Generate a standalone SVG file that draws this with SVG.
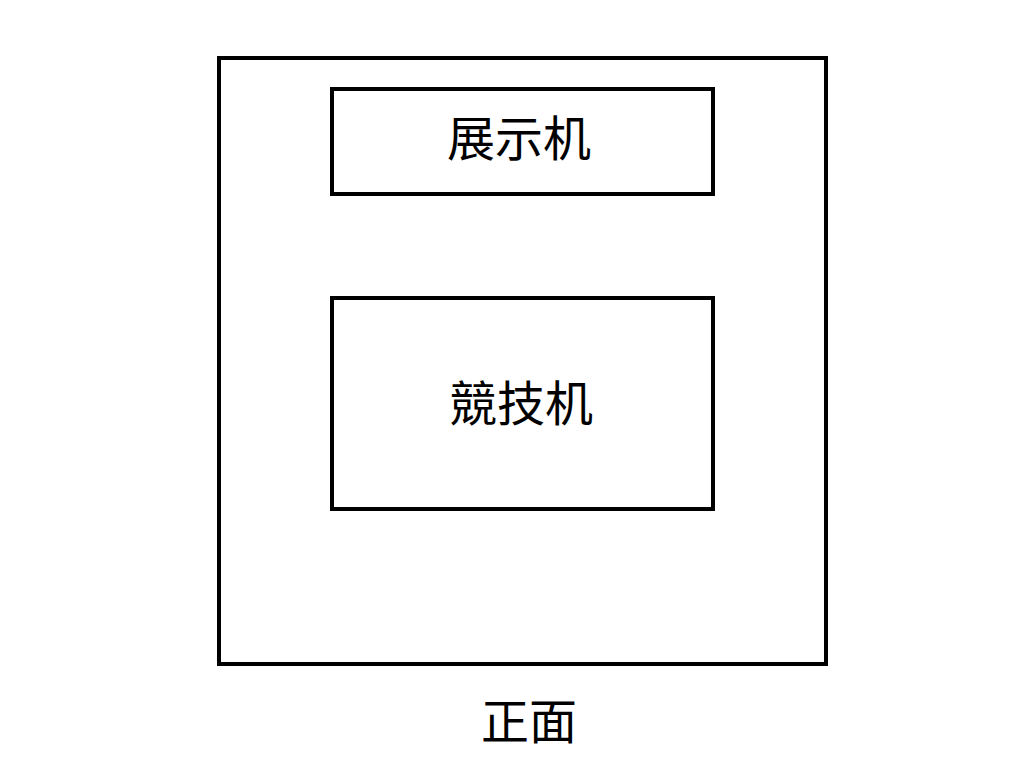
<svg xmlns="http://www.w3.org/2000/svg" width="1024" height="768" viewBox="0 0 1024 768">
<style>
.box{fill:none;stroke:#000;stroke-width:4}
.lbl{font-family:"Noto Sans CJK SC","Noto Sans CJK TC",sans-serif;font-size:48px;fill:#000;text-anchor:middle}
</style>
<rect width="1024" height="768" fill="#fff"/>
<g id="frame"><rect class="box" x="219" y="58" width="607" height="606"/></g>
<g id="display"><rect class="box" x="332" y="89" width="381" height="105"/><text class="lbl" x="519" y="156">展示机</text></g>
<g id="competition"><rect class="box" x="332" y="298" width="381" height="211"/><text class="lbl" x="521" y="421">競技机</text></g>
<g id="front"><text class="lbl" x="529" y="739">正面</text></g>
<g id="connectors"/>
</svg>
